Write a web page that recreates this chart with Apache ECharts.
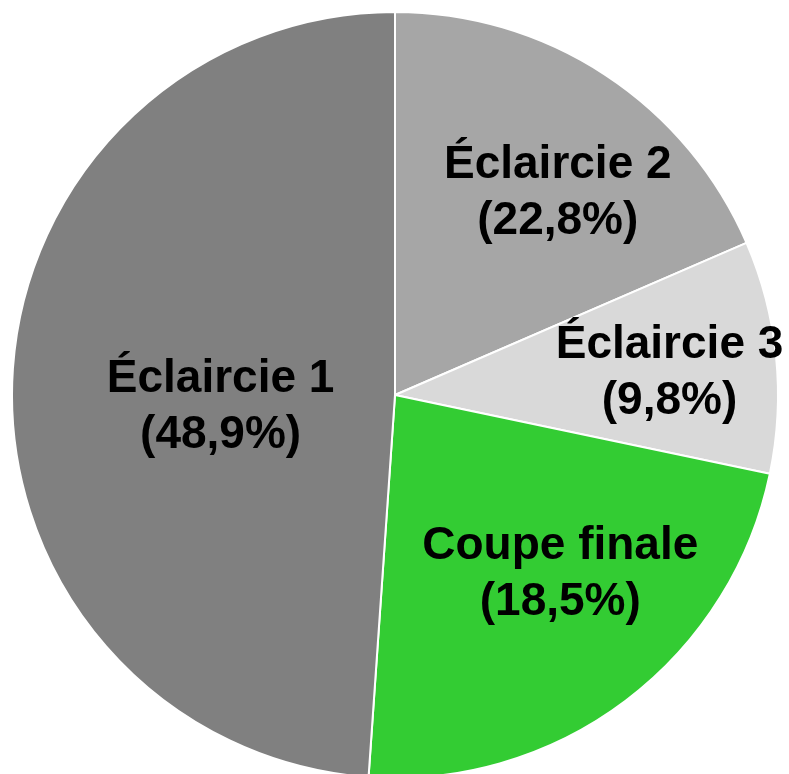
<!DOCTYPE html>
<html>
<head>
<meta charset="utf-8">
<script src="https://cdn.jsdelivr.net/npm/echarts@6/dist/echarts.min.js"></script>
<style>
  html, body { margin: 0; padding: 0; background: #fff; }
  #chart { width: 789px; height: 774px; }
</style>
</head>
<body>
<div id="chart"></div>
<script>
// ordre horaire depuis midi
var categories = ['Éclaircie 2', 'Éclaircie 3', 'Coupe finale', 'Éclaircie 1'];
// taille des secteurs telle que dessinée
var sliceShares = [18.5, 9.8, 22.8, 48.9];
// pourcentages écrits dans les étiquettes
var labelShares = [22.8, 9.8, 18.5, 48.9];
var colors = ['#a6a6a6', '#d9d9d9', '#33cc33', '#808080'];

// décalage des étiquettes par rapport au milieu du rayon
var labelShift = [[56, -39], [81, -2], [48, 24], [20, 19]];

var data = [];
for (var i = 0; i < categories.length; i++) {
    data.push({ value: sliceShares[i], name: categories[i], itemStyle: { color: colors[i] } });
}

var myChart = echarts.init(document.getElementById('chart'));
var option = {
    animation: false,
    series: [
        {
            type: 'pie',
            center: [395, 395],
            radius: [0, 383],
            startAngle: 90,
            clockwise: true,
            avoidLabelOverlap: false,
            itemStyle: {
                borderColor: '#ffffff',
                borderWidth: 2
            },
            label: {
                show: true,
                position: 'inside',
                color: '#000000',
                fontFamily: 'Liberation Sans',
                fontWeight: 'bold',
                fontSize: 46,
                lineHeight: 56,
                formatter: function (p) {
                    return p.name + '\n(' + labelShares[p.dataIndex].toFixed(1).replace('.', ',') + '%)';
                }
            },
            labelLayout: function (params) {
                var s = labelShift[params.dataIndex];
                return { dx: s[0], dy: s[1] };
            },
            emphasis: { disabled: true },
            data: data
        }
    ]
};
myChart.setOption(option);
</script>
</body>
</html>
